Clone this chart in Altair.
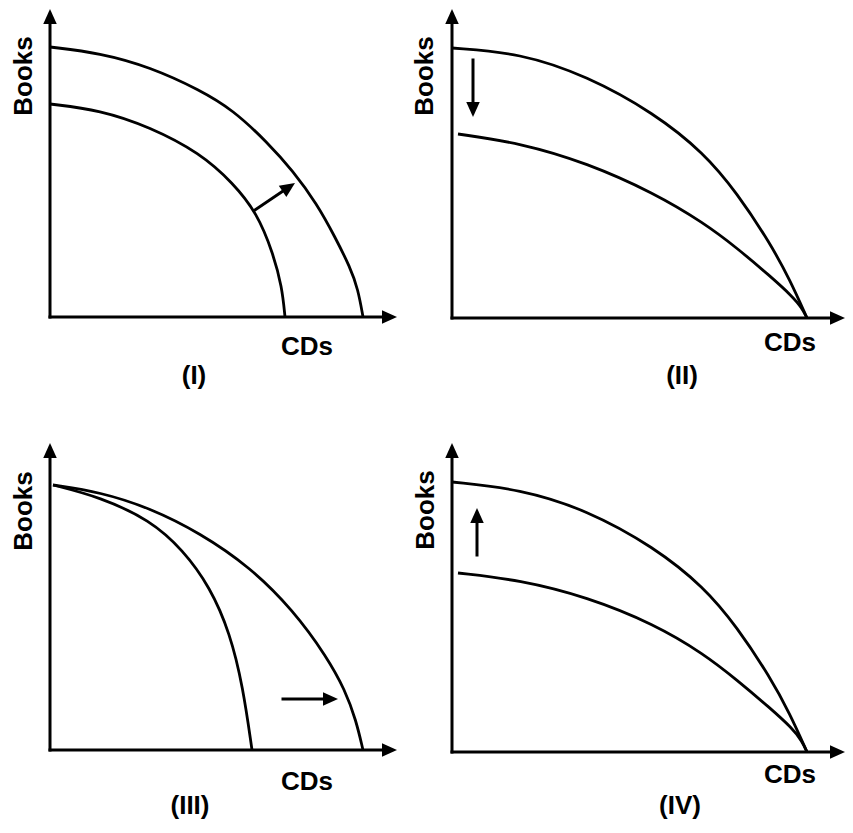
import math
import altair as alt
import pandas as pd

# ---------------- data (1 unit = 10 px on screen) ----------------
# Panel I : whole frontier shifts outward
p1_outer_cds = [0, 5.0, 10.0, 15.0, 18.3, 21.7, 24.3, 26.7, 28.5, 30.0, 30.8, 31.3]
p1_outer_books = [27.0, 26.4, 25.0, 22.7, 20.7, 17.5, 14.6, 11.3, 8.0, 5.0, 2.8, 0]
p1_inner_cds = [0, 5.0, 10.0, 15.0, 18.3, 20.7, 22.3, 23.2, 23.5]
p1_inner_books = [21.3, 20.7, 19.0, 16.4, 13.4, 10.4, 6.4, 3.0, 0]

# Panel II : books intercept falls
p2_outer_cds = [0, 6.8, 13.5, 20.2, 25.2, 28.5, 31.8, 33.8, 35.5]
p2_outer_books = [27.0, 26.5, 24.2, 20.5, 16.5, 12.5, 7.5, 3.8, 0]
p2_inner_cds = [0.6, 6.8, 13.5, 20.2, 25.2, 28.5, 31.8, 34.0, 35.0, 35.5]
p2_inner_books = [18.4, 17.5, 15.5, 12.5, 9.5, 7.0, 4.2, 2.2, 1.0, 0]

# Panel III : CDs intercept rises
p3_outer_cds = [0.3, 5.0, 10.0, 15.0, 20.0, 24.3, 27.7, 29.5, 30.6, 31.3]
p3_outer_books = [26.5, 25.8, 24.2, 21.7, 18.3, 14.0, 9.3, 6.0, 3.0, 0]
p3_inner_cds = [0.3, 5.0, 10.0, 13.3, 16.0, 18.0, 19.3, 20.2]
p3_inner_books = [26.5, 25.3, 23.0, 20.0, 16.3, 11.7, 6.3, 0]

# Panel IV : books intercept rises
p4_outer_cds = [0, 6.8, 13.5, 20.2, 25.2, 28.5, 31.8, 33.8, 35.5]
p4_outer_books = [27.0, 26.3, 24.2, 20.5, 16.5, 12.5, 7.5, 3.8, 0]
p4_inner_cds = [0.6, 6.8, 13.5, 20.2, 25.2, 28.5, 31.8, 34.0, 35.0, 35.5]
p4_inner_books = [17.9, 17.2, 15.5, 12.8, 9.8, 7.2, 4.4, 2.4, 1.1, 0]

# axis arrow tips (cds tip on x-axis, books tip on y-axis)
axis_cds_tip = [34.7, 39.3, 34.7, 39.3]
axis_books_tip = [30.8, 30.9, 30.7, 30.9]

# shift arrows: start (cds, books) -> tip (cds, books)
shift_start_cds = [20.5, 2.1, 23.3, 2.5]
shift_start_books = [10.7, 25.8, 5.1, 19.7]
shift_tip_cds = [24.5, 2.1, 28.8, 2.5]
shift_tip_books = [13.4, 20.1, 5.1, 24.4]

# labels
panel_names = ["(I)", "(II)", "(III)", "(IV)"]
name_cds = [14.4, 23.0, 14.0, 22.8]
name_books = [-5.9, -5.8, -5.6, -5.4]
cds_label_cds = [25.7, 33.8, 25.7, 33.8]
cds_label_books = [-3.0, -2.5, -3.2, -2.3]
books_label_cds = [-2.6, -2.7, -2.6, -2.6]
books_label_books = [24.1, 24.2, 23.9, 24.2]

# ---------------- layout (page pixels) ----------------
PX = 10.0
COLS = [(8, 420), (420, 845)]
ROWS = [(8, 420), (420, 816)]
ORIGINS = [(50, 317), (452, 318), (50, 750), (452, 752)]
FONT = "Liberation Sans"
HEAD = "M0,0L0.45,1L-0.45,1Z"  # arrow head, tip at origin, pointing up

curves_all = [
    (p1_outer_cds, p1_outer_books, p1_inner_cds, p1_inner_books),
    (p2_outer_cds, p2_outer_books, p2_inner_cds, p2_inner_books),
    (p3_outer_cds, p3_outer_books, p3_inner_cds, p3_inner_books),
    (p4_outer_cds, p4_outer_books, p4_inner_cds, p4_inner_books),
]


def make_panel(i):
    col = COLS[i % 2]
    row = ROWS[i // 2]
    ox, oy = ORIGINS[i]
    width = col[1] - col[0]
    height = row[1] - row[0]
    xs = alt.Scale(domain=[(col[0] - ox) / PX, (col[1] - ox) / PX], nice=False, zero=False)
    ys = alt.Scale(domain=[(oy - row[1]) / PX, (oy - row[0]) / PX], nice=False, zero=False)

    oc, ob, ic, ib = curves_all[i]
    rows = []
    for k, (c, b) in enumerate(zip(oc, ob)):
        rows.append({"cds": c, "books": b, "curve": "outer", "k": k})
    for k, (c, b) in enumerate(zip(ic, ib)):
        rows.append({"cds": c, "books": b, "curve": "inner", "k": k})
    curves = pd.DataFrame(rows)

    arrows = [
        ((0, 0), (0, axis_books_tip[i])),
        ((0, 0), (axis_cds_tip[i], 0)),
        ((shift_start_cds[i], shift_start_books[i]), (shift_tip_cds[i], shift_tip_books[i])),
    ]
    seg_rows, head_rows = [], []
    for (x0, y0), (x1, y1) in arrows:
        dx, dy = x1 - x0, y1 - y0
        L = math.hypot(dx, dy)
        back = 0.7
        seg_rows.append({"x": x0, "y": y0, "x2": x1 - dx / L * back, "y2": y1 - dy / L * back})
        head_rows.append({"x": x1, "y": y1, "ang": math.degrees(math.atan2(dx, dy)) % 360})
    segs = pd.DataFrame(seg_rows)
    heads = pd.DataFrame(head_rows)

    labels = pd.DataFrame([
        {"x": books_label_cds[i], "y": books_label_books[i], "t": "Books", "rot": 270},
        {"x": cds_label_cds[i], "y": cds_label_books[i], "t": "CDs", "rot": 0},
        {"x": name_cds[i], "y": name_books[i], "t": panel_names[i], "rot": 0},
    ])

    line = alt.Chart(curves).mark_line(
        color="black", strokeWidth=2.8, interpolate="basis"
    ).encode(
        x=alt.X("cds:Q", scale=xs, axis=None),
        y=alt.Y("books:Q", scale=ys, axis=None),
        detail="curve:N",
        order="k:Q",
    )
    rule = alt.Chart(segs).mark_rule(color="black", strokeWidth=3, strokeCap="square").encode(
        x=alt.X("x:Q", scale=xs, axis=None),
        y=alt.Y("y:Q", scale=ys, axis=None),
        x2="x2:Q",
        y2="y2:Q",
    )
    head = alt.Chart(heads).mark_point(
        shape=HEAD, filled=True, color="black", opacity=1, size=900, strokeWidth=0
    ).encode(
        x=alt.X("x:Q", scale=xs, axis=None),
        y=alt.Y("y:Q", scale=ys, axis=None),
        angle=alt.Angle("ang:Q", scale=None),
    )
    text = alt.Chart(labels).mark_text(
        font=FONT, fontWeight="bold", fontSize=26, color="black",
        align="center", baseline="middle",
    ).encode(
        x=alt.X("x:Q", scale=xs, axis=None),
        y=alt.Y("y:Q", scale=ys, axis=None),
        text="t:N",
        angle=alt.Angle("rot:Q", scale=None),
    )
    return alt.layer(line, rule, head, text).properties(width=width, height=height)


panels = [make_panel(i) for i in range(4)]
chart = alt.concat(
    *panels, columns=2, spacing=0, bounds="flush"
).properties(padding=0).configure_view(stroke=None)

chart.save("out.html", embed_options={"renderer": "svg", "actions": False})
